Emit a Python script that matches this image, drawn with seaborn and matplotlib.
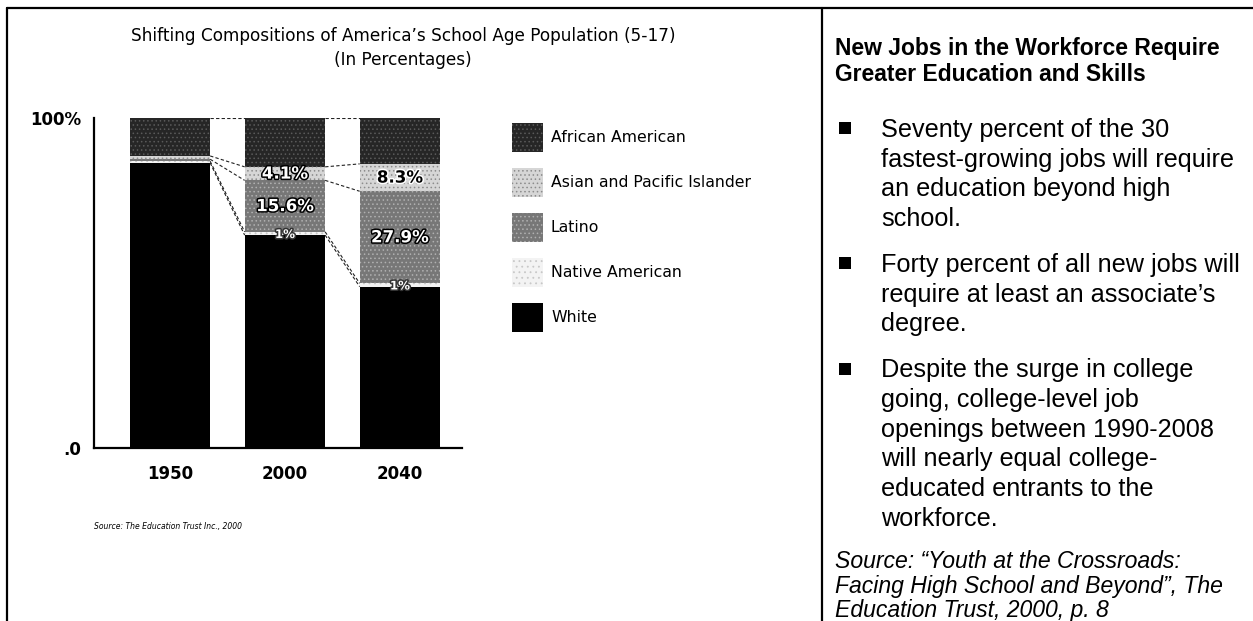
import numpy as np
import pandas as pd
import matplotlib
matplotlib.use("Agg")
import matplotlib.pyplot as plt
import seaborn as sns
from matplotlib.patches import Rectangle
from matplotlib.lines import Line2D
import matplotlib.patheffects as pe

# ---------------- data ----------------
years = ["1950", "2000", "2040"]
series = ["African American", "Asian and Pacific Islander", "Latino",
          "Native American", "White"]          # legend order (top of bar first)
african_american = [11.5, 14.8, 13.9]
asian_pacific = [1.0, 4.1, 8.3]
latino = [0.6, 15.6, 27.9]
native_american = [0.5, 1.0, 1.0]
white = [86.4, 64.5, 48.9]
asian_labels = ["", "4.1%", "8.3%"]
latino_labels = ["", "15.6%", "27.9%"]
native_labels = ["", "1%", "1%"]
ytick_values = [0, 100]
ytick_labels = [".0", "100%"]

chart_title = "Shifting Compositions of America\u2019s School Age Population (5-17)\n(In Percentages)"
chart_source = "Source: The Education Trust Inc., 2000"
heading_lines = ["New Jobs in the Workforce Require", "Greater Education and Skills"]
bullets = [
    ["Seventy percent of the 30", "fastest-growing jobs will require",
     "an education beyond high", "school."],
    ["Forty percent of all new jobs will", "require at least an associate\u2019s",
     "degree."],
    ["Despite the surge in college", "going, college-level job",
     "openings between 1990-2008", "will nearly equal college-",
     "educated entrants to the", "workforce."],
]
source_lines = ["Source: \u201cYouth at the Crossroads:",
                "Facing High School and Beyond\u201d, The",
                "Education Trust, 2000, p. 8"]

# ---------------- style ----------------
sns.set_style("white")
plt.rcParams["font.family"] = ["DejaVu Sans"]
plt.rcParams["text.color"] = "black"
plt.rcParams["xtick.color"] = "black"
plt.rcParams["ytick.color"] = "black"
plt.rcParams["hatch.linewidth"] = 0.6

W, H = 1253, 621
def fx(x): return x / W
def fy(y): return 1 - y / H

fig = plt.figure(figsize=(W / 100, H / 100), dpi=100)
ax = fig.add_axes([fx(94), fy(448), fx(462) - fx(94), (448 - 118) / H])

seg = {
    "White": white,
    "Native American": native_american,
    "Latino": latino,
    "Asian and Pacific Islander": asian_pacific,
    "African American": african_american,
}
styles = {
    "African American": dict(fc="#262626", hc="#5a5a5a", hatch="...."),
    "Asian and Pacific Islander": dict(fc="#d6d6d6", hc="#8c8c8c", hatch="...."),
    "Latino": dict(fc="#777777", hc="#b0b0b0", hatch="...."),
    "Native American": dict(fc="#f3f3f3", hc="#c8c8c8", hatch="..."),
    "White": dict(fc="#000000", hc="#000000", hatch=None),
}

bottom_up = ["White", "Native American", "Latino", "Asian and Pacific Islander", "African American"]
cum = {}
run = np.zeros(len(years))
for name in bottom_up:
    run = run + np.array(seg[name])
    cum[name] = run.copy()

df = pd.DataFrame({"year": years, **{name: cum[name] for name in bottom_up}})

bar_w = 0.70
for name in reversed(bottom_up):  # tallest first, smaller drawn over it
    n_before = len(ax.patches)
    sns.barplot(data=df, x="year", y=name, order=years, color=styles[name]["fc"],
                saturation=1, width=bar_w, ax=ax, errorbar=None, linewidth=0)
    for p in ax.patches[n_before:]:
        if styles[name]["hatch"]:
            p.set_hatch(styles[name]["hatch"])
            p.set_edgecolor(styles[name]["hc"])
        p.set_linewidth(0)

# series lines connecting the segment boundaries
for name in bottom_up:
    c = cum[name]
    for i in range(len(years) - 1):
        ax.plot([i + bar_w / 2, i + 1 - bar_w / 2], [c[i], c[i + 1]],
                ls=(0, (3, 2)), lw=0.8, color="#222222", zorder=3)

# value labels
def lab(txt, x, y, fc, ec, size):
    if txt:
        ax.text(x, y, txt, ha="center", va="center", fontsize=size,
                fontweight="bold", color=fc, zorder=4,
                path_effects=[pe.withStroke(linewidth=2.2, foreground=ec)])

for i in range(len(years)):
    lab(asian_labels[i], i, cum["Latino"][i] + asian_pacific[i] / 2,
        "black" if asian_pacific[i] > 6 else "white",
        "white" if asian_pacific[i] > 6 else "black", 12)
    lab(latino_labels[i], i, cum["Native American"][i] + latino[i] / 2, "white", "black", 12)
    lab(native_labels[i], i, cum["White"][i] + native_american[i] / 2 - 0.3, "white", "#333333", 8.5)

ax.set_xlim(-0.66, 2.54)
ax.set_ylim(0, 100)
ax.set_xlabel("")
ax.set_ylabel("")
ax.set_yticks(ytick_values)
ax.set_yticklabels(ytick_labels, fontsize=12, fontweight="bold")
ax.set_xticks(range(len(years)))
ax.set_xticklabels(years, fontsize=12, fontweight="bold")
ax.tick_params(axis="both", length=0)
ax.tick_params(axis="y", pad=9)
ax.tick_params(axis="x", pad=12)
for s in ["top", "right"]:
    ax.spines[s].set_visible(False)
for s in ["left", "bottom"]:
    ax.spines[s].set_linewidth(1.6)
    ax.spines[s].set_color("black")
ax.set_facecolor("white")

# chart title and source
fig.text(fx(403), fy(48), chart_title, ha="center", va="center", fontsize=12.2,
         linespacing=1.45, color="black")
fig.text(fx(94), fy(527), chart_source, ha="left", va="center", fontsize=5.5,
         style="italic", color="black")

# legend (manual, in figure pixels)
for k, name in enumerate(series):
    yc = 137 + 45.2 * k
    st = styles[name]
    r = Rectangle((fx(512), fy(yc + 14.5)), 31 / W, 29 / H, transform=fig.transFigure,
                  facecolor=st["fc"], edgecolor=st["hc"], hatch=st["hatch"], linewidth=0)
    fig.add_artist(r)
    fig.text(fx(551), fy(yc), name, ha="left", va="center", fontsize=11.3, color="black")

# frame lines
for (x0, y0, x1, y1) in [(7, 8, W, 8), (7, 8, 7, H), (822, 8, 822, H)]:
    fig.add_artist(Line2D([fx(x0), fx(x1)], [fy(y0), fy(y1)], transform=fig.transFigure,
                          color="black", lw=1.6))

# right panel text
RF = ["Liberation Sans", "DejaVu Sans"]
for j, line in enumerate(heading_lines):
    fig.text(fx(835), fy(48.5 + 26 * j), line, ha="left", va="center",
             fontsize=16.5, fontweight="bold", family=RF, color="black")

para_y = [130, 265, 370.5]
for p, lines in enumerate(bullets):
    y0 = para_y[p]
    fig.add_artist(Rectangle((fx(839), fy(y0 + 4)), 12 / W, 12 / H,
                             transform=fig.transFigure, facecolor="black", lw=0))
    for j, line in enumerate(lines):
        fig.text(fx(881), fy(y0 + 29.6 * j), line, ha="left", va="center",
                 fontsize=18.2, family=RF, color="black")

for j, line in enumerate(source_lines):
    fig.text(fx(835), fy(561 + 25 * j), line, ha="left", va="center",
             fontsize=16.6, style="italic", family=RF, color="black")

fig.savefig("out.png", dpi=100)
